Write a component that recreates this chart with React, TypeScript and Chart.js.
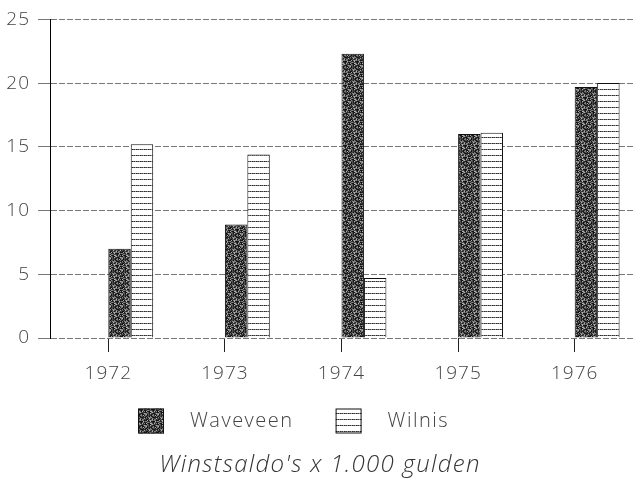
import React, { useEffect, useRef } from "react";
import { Chart, registerables } from "chart.js";

Chart.register(...registerables);

const categories = ["1972", "1973", "1974", "1975", "1976"];
const seriesNames = ["Waveveen", "Wilnis"];
const waveveen = [7.0, 8.9, 22.3, 16.0, 19.7];
const wilnis = [15.2, 14.4, 4.7, 16.1, 20.0];
const padding = [null, null, null, null, null];
const yMin = 0;
const yMax = 25;
const yStep = 5;
const titleText = "Winstsaldo's x 1.000 gulden";

const FONT = "'Open Sans', 'Liberation Sans', sans-serif";
const TEXT = "#444";

function makeStipple(): CanvasPattern | string {
  const n = 12;
  const c = document.createElement("canvas");
  c.width = n;
  c.height = n;
  const g = c.getContext("2d");
  if (!g) return "#555";
  const shades = ["#141414", "#2e2e2e", "#505050", "#808080", "#b0b0b0"];
  for (let y = 0; y < n; y++) {
    for (let x = 0; x < n; x++) {
      const h = ((x * 37 + y * 91 + ((x * y * 13) ^ (x + 3 * y))) * 2654435761) >>> 0;
      const v = (h >>> 7) % 10;
      const idx = v < 3 ? 0 : v < 5 ? 1 : v < 7 ? 2 : v < 9 ? 3 : 4;
      g.fillStyle = shades[idx];
      g.fillRect(x, y, 1, 1);
    }
  }
  const ctx = document.createElement("canvas").getContext("2d");
  return ctx ? (ctx.createPattern(c, "repeat") as CanvasPattern) : "#555";
}

function makeLines(): CanvasPattern | string {
  const c = document.createElement("canvas");
  c.width = 4;
  c.height = 6;
  const g = c.getContext("2d");
  if (!g) return "#fff";
  g.fillStyle = "#ffffff";
  g.fillRect(0, 0, 4, 6);
  const row = ["#222", "#666", "#333", "#999"];
  for (let x = 0; x < 4; x++) {
    g.fillStyle = row[x];
    g.fillRect(x, 5, 1, 1);
  }
  const ctx = document.createElement("canvas").getContext("2d");
  return ctx ? (ctx.createPattern(c, "repeat") as CanvasPattern) : "#fff";
}

export default function App() {
  const ref = useRef<HTMLCanvasElement | null>(null);

  useEffect(() => {
    if (!ref.current) return;
    const stipple = makeStipple();
    const lines = makeLines();
    const fills = [stipple, lines];

    const spacingPlugin = {
      id: "letterSpacing",
      beforeDraw(chart: any) {
        (chart.ctx as any).letterSpacing = "1px";
      },
    };

    const legendPlugin = {
      id: "customLegend",
      afterDraw(chart: any) {
        const ctx = chart.ctx as CanvasRenderingContext2D;
        ctx.save();
        (ctx as any).letterSpacing = "1.5px";
        ctx.font = `300 20px ${FONT}`;
        ctx.textBaseline = "middle";
        let x = 138;
        const cy = 421;
        const bw = 26;
        const bh = 25;
        seriesNames.forEach((name, i) => {
          ctx.fillStyle = fills[i] as any;
          ctx.fillRect(x, cy - bh / 2, bw, bh);
          ctx.strokeStyle = "#111";
          ctx.lineWidth = 1;
          ctx.strokeRect(x + 0.5, cy - bh / 2 + 0.5, bw - 1, bh - 1);
          ctx.fillStyle = TEXT;
          const tx = x + bw + 26;
          ctx.fillText(name, tx, cy);
          x = tx + ctx.measureText(name).width + 42;
        });
        (ctx as any).letterSpacing = "1.3px";
        ctx.font = `italic 300 24px ${FONT}`;
        ctx.textAlign = "center";
        ctx.fillStyle = "#333";
        ctx.fillText(titleText, 320, 465);
        ctx.restore();
      },
    };

    const chart = new Chart(ref.current, {
      type: "bar",
      data: {
        labels: categories,
        datasets: [
          { label: "", data: padding as any, backgroundColor: "transparent" },
          { label: "", data: padding as any, backgroundColor: "transparent" },
          {
            label: seriesNames[0],
            data: waveveen,
            backgroundColor: stipple as any,
            borderColor: "#111",
            borderWidth: 1,
          },
          {
            label: seriesNames[1],
            data: wilnis,
            backgroundColor: lines as any,
            borderColor: "#111",
            borderWidth: 1,
          },
        ],
      },
      options: {
        responsive: false,
        animation: false,
        devicePixelRatio: 1,
        categoryPercentage: 0.77,
        barPercentage: 1,
        layout: { padding: { top: 16, left: 0, right: 0, bottom: 102 } },
        plugins: {
          legend: { display: false },
          tooltip: { enabled: false },
          title: { display: false },
        },
        scales: {
          x: {
            offset: true,
            grid: {
              offset: false,
              drawOnChartArea: false,
              drawTicks: true,
              tickLength: 14,
              color: "#222",
            },
            border: { display: false },
            ticks: {
              color: TEXT,
              font: { family: FONT, size: 19, weight: 300 as any },
              padding: 10,
            },
            afterFit(scale: any) {
              scale.height = 50;
            },
          },
          y: {
            min: yMin,
            max: yMax,
            grid: {
              color: "#777",
              tickLength: 12,
              drawTicks: true,
            },
            border: { display: true, color: "#000", width: 1, dash: [6, 2] },
            ticks: {
              stepSize: yStep,
              color: TEXT,
              font: { family: FONT, size: 19, weight: 300 as any },
              padding: 8,
            },
            afterFit(scale: any) {
              scale.width = 50;
            },
          },
        },
      },
      plugins: [spacingPlugin, legendPlugin],
    });

    return () => chart.destroy();
  }, []);

  return (
    <div style={{ position: "absolute", left: 0, top: 0, width: 633, height: 490, background: "#fff" }}>
      <canvas ref={ref} width={633} height={490} />
    </div>
  );
}
